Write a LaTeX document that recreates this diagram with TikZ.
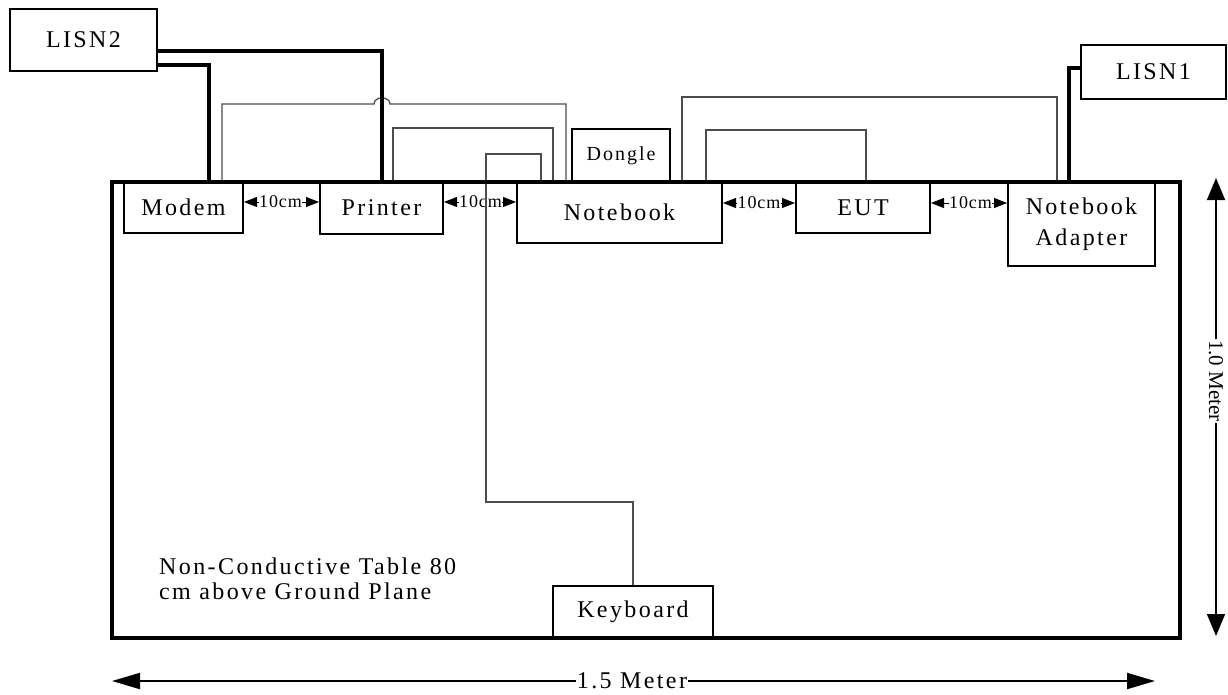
\documentclass[tikz,border=0pt]{standalone}
\usepackage{fontspec}
\setmainfont{Liberation Serif}[LetterSpace=10]
\usetikzlibrary{arrows.meta,calc}
\begin{document}
\begin{tikzpicture}[x=1pt,y=-1pt,
  box/.style={draw, line width=2pt, fill=white, inner sep=0pt, align=center,
    font=\fontsize{24}{31}\selectfont},
  power/.style={line width=4pt},
  wire/.style={line width=1.3pt, draw=black!70},
  dimlab/.style={inner sep=0pt, font=\fontsize{18}{20}\selectfont\addfontfeatures{LetterSpace=5}},
  dimtip/.style={line width=0.8pt, -{Triangle[length=13pt,width=10pt]}},
  meas/.style={inner sep=1pt, fill=white},
  bigdim/.style={line width=2pt, -{Triangle[length=28pt,width=16pt]}},
  vdim/.style={line width=1.6pt, -{Triangle[length=22pt,width=18pt]}}
]
\useasboundingbox (0,0) rectangle (1228,694);

% boxes
\node[box, minimum width=147, minimum height=62] (lisn2) at (83.5,40) {LISN2};
\node[box, minimum width=145, minimum height=54] (lisn1) at (1153.5,72) {LISN1};
\node[box, minimum width=119, minimum height=51] (modem) at (183.5,207.5) {Modem};
\node[box, minimum width=123, minimum height=52] (printer) at (381.5,208) {Printer};
\node[box, minimum width=205, minimum height=61] (notebook) at (619.5,212.5) {Notebook};
\node[box, minimum width=98, minimum height=53, font=\fontsize{20}{22}\selectfont] (dongle) at (621,155.5) {Dongle};
\node[box, minimum width=134, minimum height=51] (eut) at (863,207.5) {EUT};
\node[box, minimum width=147, minimum height=84] (adapter) at (1081.5,224) {Notebook\\Adapter};
\node[box, minimum width=160, minimum height=52] (keyboard) at (633,612) {Keyboard};

% table text
\node[anchor=north west, align=left, inner sep=0pt, font=\fontsize{24}{25}\selectfont] (note) at (159,558)
  {Non-Conductive Table 80\\cm above Ground Plane};

% 10cm spacings
\node[dimlab] (d1) at (280.5,202) {10cm};
\node[dimlab] (d2) at (480.5,202) {10cm};
\node[dimlab] (d3) at (759,203) {10cm};
\node[dimlab] (d4) at (970.5,203) {10cm};
\draw[dimtip] (d1.west) -- (modem.east |- d1.west);
\draw[dimtip] (d1.east) -- (printer.west |- d1.east);
\draw[dimtip] (d2.west) -- (printer.east |- d2.west);
\draw[dimtip] (d2.east) -- (notebook.west |- d2.east);
\draw[dimtip] (d3.west) -- (notebook.east |- d3.west);
\draw[dimtip] (d3.east) -- (eut.west |- d3.east);
\draw[dimtip] (d4.west) -- (eut.east |- d4.west);
\draw[dimtip] (d4.east) -- (adapter.west |- d4.east);

% signal cables
\draw[wire] ([xshift=38.5pt]modem.north) |- (374,104)
  to[out=90,in=90,looseness=1.3] (390,104) -| ([xshift=-53.5pt]notebook.north);
\draw[wire] ([xshift=11.5pt]printer.north) -- ++(0,-53) -| ([xshift=-66.5pt]notebook.north);
\draw[wire] ([xshift=-78.5pt]notebook.north) |- (486,154) -- (486,502) -| (keyboard.north);
\draw[wire] ([xshift=62.5pt]notebook.north) -- ++(0,-84) -| ([xshift=-24.5pt]adapter.north);
\draw[wire] ([xshift=86.5pt]notebook.north) -- ++(0,-51) -| ([xshift=3pt]eut.north);

% power cables
\draw[power] ([yshift=-11pt]lisn2.east) -| (printer.north);
\draw[power] ([yshift=-25pt]lisn2.east) -| ([xshift=25.5pt]modem.north);
\draw[power] ([yshift=4pt]lisn1.west) -| ([xshift=-12.5pt]adapter.north);

% table
\node[draw, line width=3.5pt, minimum width=1068, minimum height=456, inner sep=0pt] (table) at (646,410) {};

% dimensions
\coordinate (bl) at (112,681);
\coordinate (br) at (1155,681);
\node[meas, font=\fontsize{24}{26}\selectfont] (wlab) at (632,681) {1.5 Meter};
\draw[bigdim] (wlab.west) -- (bl);
\draw[bigdim] (wlab.east) -- (br);

\coordinate (vt) at (1216,178);
\coordinate (vb) at (1216,636);
\node[meas, rotate=-90, font=\fontsize{21}{23}\selectfont\addfontfeatures{LetterSpace=0}] (hlab) at (1216,381) {1.0 Meter};
\draw[vdim] (hlab.west) -- (vt);
\draw[vdim] (hlab.east) -- (vb);
\end{tikzpicture}
\end{document}
